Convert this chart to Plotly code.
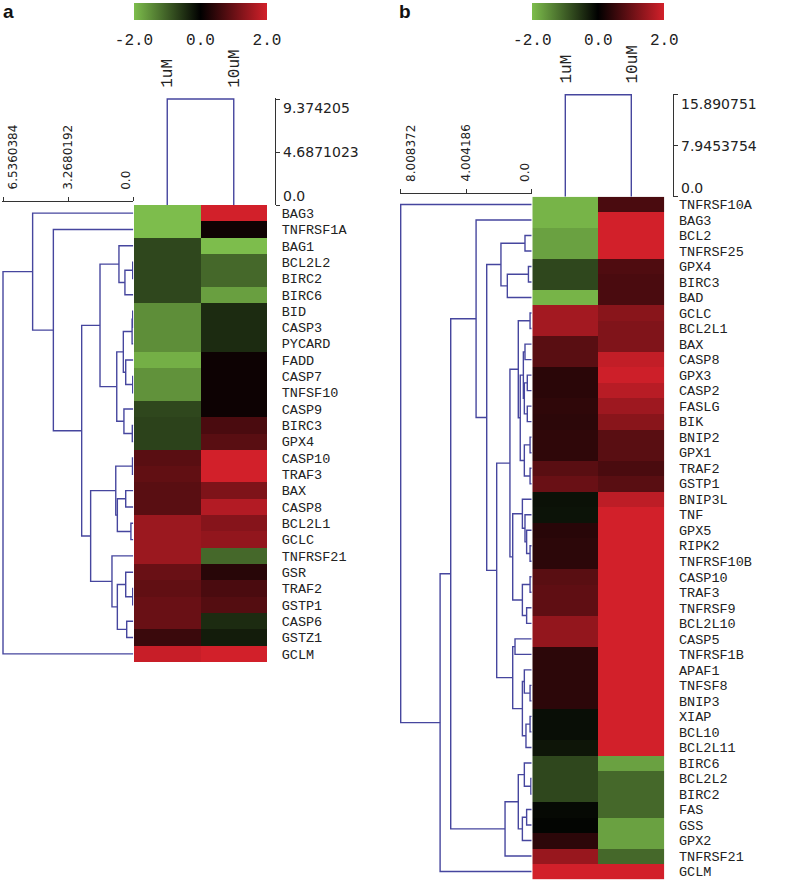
import plotly.graph_objects as go

W, H = 787, 881

conditions = ["1uM", "10uM"]

# ---------------- panel a data ----------------
genes_a = ["BAG3", "TNFRSF1A", "BAG1", "BCL2L2", "BIRC2", "BIRC6", "BID", "CASP3", "PYCARD",
           "FADD", "CASP7", "TNFSF10", "CASP9", "BIRC3", "GPX4", "CASP10", "TRAF3", "BAX",
           "CASP8", "BCL2L1", "GCLC", "TNFRSF21", "GSR", "TRAF2", "GSTP1", "CASP6", "GSTZ1", "GCLM"]
a_1uM = [-2.0, -2.0, -0.75, -0.75, -0.75, -0.75, -1.5, -1.5, -1.5, -1.85, -1.55, -1.55, -0.75,
         -0.7, -0.7, 0.85, 0.92, 0.85, 0.85, 1.48, 1.48, 1.48, 1.0, 0.92, 1.0, 1.0, 0.55, 1.9]
a_10uM = [2.0, 0.15, -2.0, -1.1, -1.1, -1.68, -0.45, -0.45, -0.45, 0.12, 0.12, 0.12, 0.12,
          0.7, 0.85, 2.0, 2.0, 1.2, 1.7, 1.28, 1.39, -1.1, 0.38, 0.7, 0.8, -0.45, -0.3, 2.0]
# row linkage: (child, child, height); "#k" refers to merge k
merges_a = [
    ("BCL2L2", "BIRC2", 0.03), ("#0", "BIRC6", 0.42), ("BAG1", "#1", 0.72),
    ("BID", "CASP3", 0.03), ("#3", "PYCARD", 0.06), ("CASP7", "TNFSF10", 0.03),
    ("FADD", "#5", 0.38), ("#4", "#6", 0.50), ("BIRC3", "GPX4", 0.05),
    ("CASP9", "#8", 0.47), ("#7", "#9", 0.83), ("#2", "#10", 1.67),
    ("CASP10", "TRAF3", 0.04), ("BAX", "CASP8", 0.38), ("BCL2L1", "GCLC", 0.12),
    ("#13", "#14", 0.80), ("#12", "#15", 0.88), ("TRAF2", "GSTP1", 0.03),
    ("GSR", "#17", 0.38), ("CASP6", "GSTZ1", 0.33), ("#18", "#19", 0.80),
    ("TNFRSF21", "#20", 1.07), ("#16", "#21", 2.14), ("#11", "#22", 2.59),
    ("TNFRSF1A", "#23", 4.01), ("BAG3", "#24", 5.05), ("#25", "GCLM", 6.5360384),
]
col_height_a = 9.374205
row_scale_a = [6.5360384, 3.2680192, 0.0]
row_scale_a_text = ["6.5360384", "3.2680192", "0.0"]
col_scale_a = [0.0, 4.6871023, 9.374205]
col_scale_a_text = ["0.0", "4.6871023", "9.374205"]

# ---------------- panel b data ----------------
genes_b = ["TNFRSF10A", "BAG3", "BCL2", "TNFRSF25", "GPX4", "BIRC3", "BAD", "GCLC", "BCL2L1",
           "BAX", "CASP8", "GPX3", "CASP2", "FASLG", "BIK", "BNIP2", "GPX1", "TRAF2", "GSTP1",
           "BNIP3L", "TNF", "GPX5", "RIPK2", "TNFRSF10B", "CASP10", "TRAF3", "TNFRSF9",
           "BCL2L10", "CASP5", "TNFRSF1B", "APAF1", "TNFSF8", "BNIP3", "XIAP", "BCL10",
           "BCL2L11", "BIRC6", "BCL2L2", "BIRC2", "FAS", "GSS", "GPX2", "TNFRSF21", "GCLM"]
b_1uM = [-1.9, -1.9, -1.7, -1.7, -0.75, -0.75, -1.9, 1.55, 1.55, 0.85, 0.85, 0.4, 0.4, 0.45,
         0.42, 0.45, 0.45, 0.85, 1.0, -0.18, -0.2, 0.38, 0.42, 0.42, 0.85, 0.9, 0.9, 1.4, 1.4,
         0.42, 0.42, 0.42, 0.42, -0.15, -0.15, -0.22, -0.75, -0.75, -0.75, -0.1, -0.05, 0.42,
         1.45, 2.0]
b_10uM = [0.7, 2.0, 2.0, 2.0, 0.75, 0.7, 0.7, 1.3, 1.22, 1.22, 1.85, 1.95, 1.75, 1.5, 1.3,
          0.85, 0.85, 0.7, 0.85, 1.8, 2.0, 2.0, 2.0, 2.0, 2.0, 2.0, 2.0, 2.0, 2.0, 2.0, 2.0,
          2.0, 2.0, 2.0, 2.0, 2.0, -1.7, -1.1, -1.1, -1.1, -1.7, -1.7, -1.1, 2.0]
merges_b = [
    ("BCL2", "TNFRSF25", 0.41), ("GPX4", "BIRC3", 0.20), ("#1", "BAD", 1.49),
    ("#0", "#2", 1.88), ("GCLC", "BCL2L1", 0.10), ("BAX", "CASP8", 0.41),
    ("GPX3", "CASP2", 0.27), ("FASLG", "BIK", 0.27), ("#6", "#7", 0.45),
    ("#5", "#8", 0.51), ("BNIP2", "GPX1", 0.10), ("TRAF2", "GSTP1", 0.10),
    ("#10", "#11", 0.45), ("#9", "#12", 0.70), ("#4", "#13", 0.82),
    ("RIPK2", "TNFRSF10B", 0.10), ("GPX5", "#15", 0.31), ("TNF", "#16", 0.41),
    ("BNIP3L", "#17", 0.57), ("CASP10", "TRAF3", 0.10), ("TNFRSF9", "BCL2L10", 0.31),
    ("#19", "#20", 0.57), ("#18", "#21", 1.16), ("#14", "#22", 1.33),
    ("CASP5", "TNFRSF1B", 1.02), ("TNFSF8", "BNIP3", 0.10), ("APAF1", "#25", 0.45),
    ("XIAP", "BCL10", 0.10), ("#27", "BCL2L11", 0.35), ("#26", "#28", 0.57),
    ("#24", "#29", 1.16), ("#23", "#30", 2.14), ("#3", "#31", 2.75),
    ("BAG3", "#32", 3.40), ("BCL2L2", "BIRC2", 0.05), ("BIRC6", "#34", 0.45),
    ("FAS", "GSS", 0.31), ("#36", "GPX2", 0.57), ("#35", "#37", 0.82),
    ("#38", "TNFRSF21", 1.63), ("#33", "#39", 4.95), ("#40", "GCLM", 5.60),
    ("TNFRSF10A", "#41", 8.008372),
]
col_height_b = 15.890751
row_scale_b = [8.008372, 4.004186, 0.0]
row_scale_b_text = ["8.008372", "4.004186", "0.0"]
col_scale_b = [0.0, 7.9453754, 15.890751]
col_scale_b_text = ["0.0", "7.9453754", "15.890751"]

color_ticks = [-2.0, 0.0, 2.0]
color_ticktext = ["-2.0", "0.0", "2.0"]

# ---------------- style ----------------
LINE = "#46469e"
AXC = "#333333"
MONO = "Liberation Mono, Courier New, monospace"
SANS = "DejaVu Sans, Arial, sans-serif"
CSCALE = [[0.0, "#7dbd4c"], [0.5, "#000000"], [1.0, "#d2202a"]]
TXT = "#222222"


def fx(px):
    return px / W


def fy(py):
    return 1 - py / H


def dendro(genes, merges):
    pos = {g: (float(i), 0.0) for i, g in enumerate(genes)}
    xs, ys = [], []
    for k, (a, b, h) in enumerate(merges):
        ya, ha = pos[a]
        yb, hb = pos[b]
        xs += [ha, h, h, hb, None]
        ys += [ya, ya, yb, yb, None]
        pos["#%d" % k] = ((ya + yb) / 2, h)
    return xs, ys


panels = [
    dict(genes=genes_a, v1=a_1uM, v2=a_10uM, merges=merges_a, col_h=col_height_a,
         rticks=row_scale_a, rtext=row_scale_a_text, cticks=col_scale_a, ctext=col_scale_a_text,
         heat_x=(134, 267), heat_y=(205, 662), dend_x=(3, 133.3), scale_y=201,
         col_top=99, scale_x=275, ids=("", "2"), ca="coloraxis"),
    dict(genes=genes_b, v1=b_1uM, v2=b_10uM, merges=merges_b, col_h=col_height_b,
         rticks=row_scale_b, rtext=row_scale_b_text, cticks=col_scale_b, ctext=col_scale_b_text,
         heat_x=(532.3, 664.3), heat_y=(196.7, 879.3), dend_x=(400.7, 531.7), scale_y=192.7,
         col_top=94.7, scale_x=673.3, ids=("3", "4"), ca="coloraxis2"),
]

fig = go.Figure()
layout = dict(width=W, height=H, margin=dict(l=0, r=0, t=0, b=0, autoexpand=False),
              plot_bgcolor="white", paper_bgcolor="white", showlegend=False)
annotations = []

for p in panels:
    i1, i2 = p["ids"]
    xa, ya, xd, yd = "x" + i1, "y" + i1, "x" + i2, "y" + i2
    n = len(p["genes"])
    z = [[p["v1"][i], p["v2"][i]] for i in range(n)]
    fig.add_trace(go.Heatmap(z=z, x=[0, 1], y=list(range(n)), coloraxis=p["ca"],
                             xaxis=xa, yaxis=ya, hoverinfo="skip"))
    dx, dy = dendro(p["genes"], p["merges"])
    fig.add_trace(go.Scatter(x=dx, y=dy, mode="lines", xaxis=xd, yaxis=ya,
                             line=dict(color=LINE, width=1.4), hoverinfo="skip"))
    h = p["col_h"]
    cx, cy = dendro(conditions, [(conditions[0], conditions[1], h)])
    fig.add_trace(go.Scatter(x=cy, y=cx, mode="lines", xaxis=xa, yaxis=yd,
                             line=dict(color=LINE, width=1.4), hoverinfo="skip"))

    hx0, hx1 = p["heat_x"]
    hy0, hy1 = p["heat_y"]
    dx0, dx1 = p["dend_x"]
    rmax = p["rticks"][0]
    pxu = (dx1 - dx0) / rmax
    ctop = p["col_top"]
    cpx = (hy0 - ctop) / h

    layout["xaxis" + i1] = dict(domain=[fx(hx0), fx(hx1)], range=[-0.5, 1.5], anchor=yd,
                                side="top", tickvals=[0, 1], ticktext=conditions, tickangle=-90,
                                tickfont=dict(family=MONO, size=16, color=TXT),
                                ticks="outside", ticklen=6, tickcolor="rgba(0,0,0,0)",
                                showgrid=False, zeroline=False, showline=False)
    layout["yaxis" + i1] = dict(domain=[fy(hy1), fy(hy0)], range=[n - 0.5, -0.5], anchor=xa,
                                side="right", tickvals=list(range(n)), ticktext=p["genes"],
                                tickfont=dict(family=MONO, size=13.5, color=TXT),
                                ticks="outside", ticklen=11, tickcolor="rgba(0,0,0,0)",
                                showgrid=False, zeroline=False, showline=False)
    layout["xaxis" + i2] = dict(domain=[fx(dx0 - 1), fx(dx1)], range=[rmax + 1 / pxu, 0],
                                anchor="free", position=fy(p["scale_y"]), side="top",
                                showline=True, linecolor=AXC, linewidth=1,
                                ticks="outside", ticklen=4, tickcolor=AXC, tickwidth=1,
                                tickvals=p["rticks"], showticklabels=False,
                                showgrid=False, zeroline=False)
    layout["yaxis" + i2] = dict(domain=[fy(hy0), fy(ctop - 1)], range=[0, h + 1 / cpx],
                                anchor="free", position=fx(p["scale_x"]), side="right",
                                showline=True, linecolor=AXC, linewidth=1,
                                ticks="outside", ticklen=4, tickcolor=AXC, tickwidth=1,
                                tickvals=p["cticks"], showticklabels=False,
                                showgrid=False, zeroline=False)
    layout[p["ca"]] = dict(cmin=-2, cmax=2, colorscale=CSCALE,
                           colorbar=dict(orientation="h", x=fx((hx0 + hx1) / 2), xanchor="center",
                                         y=fy(3), yanchor="top", len=hx1 - hx0, lenmode="pixels",
                                         thickness=17, thicknessmode="pixels", xpad=0, ypad=0,
                                         outlinewidth=0, tickvals=color_ticks,
                                         ticktext=color_ticktext, ticks="outside", ticklen=6,
                                         tickcolor="rgba(0,0,0,0)",
                                         tickfont=dict(family=MONO, size=16, color=TXT)))

    # scale labels (pulled inside the scale ends, as in the reference)
    ranch = ["left", "center", "right"]
    rshift = [2, 0, 1]
    for v, t, an, sh in zip(p["rticks"], p["rtext"], ranch, rshift):
        annotations.append(dict(text=t, x=v, xref=xd, y=fy(p["scale_y"] - 10), yref="paper",
                                xanchor=an, yanchor="bottom", xshift=sh, textangle=-90,
                                showarrow=False, borderpad=0,
                                font=dict(family=SANS, size=12, color=TXT)))
    canch = ["bottom", "middle", "top"]
    for v, t, an in zip(p["cticks"], p["ctext"], canch):
        annotations.append(dict(text=t, x=fx(p["scale_x"] + 7), xref="paper", y=v, yref=yd,
                                xanchor="left", yanchor=an, showarrow=False, borderpad=0,
                                font=dict(family=SANS, size=14, color=TXT)))

annotations += [
    dict(text="<b>a</b>", x=fx(2), y=1.0, xref="paper", yref="paper", xanchor="left",
         yanchor="top", showarrow=False, borderpad=0,
         font=dict(family="Liberation Sans, Arial", size=19, color="#111")),
    dict(text="<b>b</b>", x=fx(398), y=1.0, xref="paper", yref="paper", xanchor="left",
         yanchor="top", showarrow=False, borderpad=0,
         font=dict(family="Liberation Sans, Arial", size=19, color="#111")),
]
layout["annotations"] = annotations

fig.update_layout(**layout)
fig.write_html("out.html", config={"displayModeBar": False},
               post_script="document.body.style.margin='0';")
